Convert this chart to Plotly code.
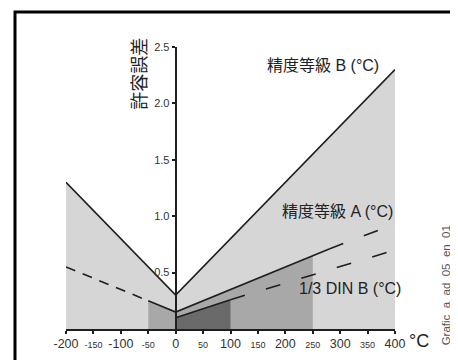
import plotly.graph_objects as go

# ---- data ----
temps_B = [-200, 0, 400]
tol_B = [1.3, 0.3, 2.3]

temps_A = [-200, -50, 0, 250, 280, 400]
tol_A = [0.55, 0.25, 0.15, 0.65, 0.71, 0.93]

temps_D = [0, 100, 400]
tol_D = [0.10, 0.26, 0.70]

x_ticks = [-200, -150, -100, -50, 0, 50, 100, 150, 200, 250, 300, 350, 400]
y_ticks = [0.5, 1.0, 1.5, 2.0, 2.5]
y_tick_text = ["0.5", "1.0", "1.5", "2.0", "2.5"]

FONT = "Liberation Sans, Arial, Noto Sans CJK JP, sans-serif"
LINE = "#1e1e1e"

fig = go.Figure()

# light region under class B
xb = [temps_B[0]] + temps_B + [temps_B[-1]]
yb = [0] + tol_B + [0]
fig.add_trace(go.Scatter(x=xb, y=yb, fill="toself", fillcolor="#d6d6d6",
                         line=dict(width=0), mode="lines", hoverinfo="skip"))
# medium region under class A between -50 and 250
ia0, ia1 = temps_A.index(-50), temps_A.index(250)
xa = [temps_A[ia0]] + temps_A[ia0:ia1 + 1] + [temps_A[ia1]]
ya = [0] + tol_A[ia0:ia1 + 1] + [0]
fig.add_trace(go.Scatter(x=xa, y=ya, fill="toself", fillcolor="#a8a8a8",
                         line=dict(width=0), mode="lines", hoverinfo="skip"))
# dark region under 1/3 DIN B between 0 and 100
xd = [temps_D[0]] + temps_D[0:2] + [temps_D[1]]
yd = [0] + tol_D[0:2] + [0]
fig.add_trace(go.Scatter(x=xd, y=yd, fill="toself", fillcolor="#6a6a6a",
                         line=dict(width=0), mode="lines", hoverinfo="skip"))

# class B line
fig.add_trace(go.Scatter(x=temps_B, y=tol_B, mode="lines",
                         line=dict(color=LINE, width=1.6)))
# class A: dashed left, solid middle, dashed right
fig.add_trace(go.Scatter(x=temps_A[0:2], y=tol_A[0:2], mode="lines",
                         line=dict(color=LINE, width=1.6, dash="10px,8px")))
fig.add_trace(go.Scatter(x=temps_A[1:5], y=tol_A[1:5], mode="lines",
                         line=dict(color=LINE, width=1.6)))
fig.add_trace(go.Scatter(x=temps_A[4:], y=tol_A[4:], mode="lines",
                         line=dict(color=LINE, width=1.6, dash="15px,22px")))
# 1/3 DIN B: solid then dashed
fig.add_trace(go.Scatter(x=temps_D[0:2], y=tol_D[0:2], mode="lines",
                         line=dict(color=LINE, width=1.6)))
fig.add_trace(go.Scatter(x=temps_D[1:], y=tol_D[1:], mode="lines",
                         line=dict(color=LINE, width=1.6, dash="15px,22px")))

def tick_label(v):
    if v % 100 == 0:
        return f'<span style="font-size:12.5px">{v}</span>'
    return f'<span style="font-size:9px">{v}</span>'

fig.update_layout(
    width=458, height=360,
    margin=dict(l=58, r=71, t=39, b=39),
    paper_bgcolor="white", plot_bgcolor="white",
    showlegend=False,
    font=dict(family=FONT, color="#333333"),
    xaxis=dict(range=[-200, 400], showgrid=False, zeroline=False,
               showline=True, linecolor=LINE, linewidth=2,
               tickmode="array", tickvals=x_ticks,
               ticktext=[tick_label(v) for v in x_ticks],
               ticks="outside", ticklen=3, tickwidth=2, tickcolor=LINE,
               tickfont=dict(size=12, color="#333333")),
    yaxis=dict(range=[0, 2.5], showgrid=False, zeroline=False,
               anchor="free", position=1/3,
               showline=True, linecolor=LINE, linewidth=2,
               tickmode="array", tickvals=y_ticks, ticktext=y_tick_text,
               ticks="outside", ticklen=3, tickwidth=2, tickcolor=LINE,
               tickfont=dict(size=11, color="#333333")),
)

# outer frame
fig.add_shape(type="rect", xref="paper", yref="paper",
              x0=-0.155, y0=-0.5, x1=1.5, y1=1.124,
              line=dict(color="black", width=3), fillcolor="rgba(0,0,0,0)")

ann = [
    dict(text="許容誤差", x=0.225, y=0.905, textangle=-90, size=18, color="#222222"),
    dict(text="精度等級 B (°C)", x=0.781, y=0.936, size=16, color="#222222"),
    dict(text="精度等級 A (°C)", x=0.824, y=0.418, size=16, color="#222222"),
    dict(text="1/3 DIN B (°C)", x=0.862, y=0.142, size=16, color="#222222"),
    dict(text="°C", x=1.074, y=-0.043, size=18, color="#222222"),
    dict(text="Grafic  a  ad  05  en  01", x=1.156, y=0.156, textangle=-90, size=11.5, color="#555555"),
]
for a in ann:
    fig.add_annotation(text=a["text"], x=a["x"], y=a["y"], xref="paper", yref="paper",
                       xanchor="center", yanchor="middle",
                       showarrow=False, textangle=a.get("textangle", 0),
                       font=dict(family=FONT, size=a["size"], color=a["color"]))

fig.write_html("out.html")
